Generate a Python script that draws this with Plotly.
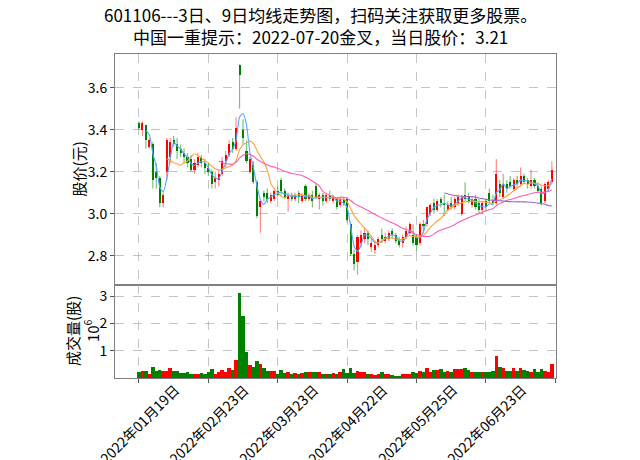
import plotly.graph_objects as go
from plotly.subplots import make_subplots
import pandas as pd

# ---------------- data ----------------
opens = [3.43, 3.40, 3.42, 3.32, 3.33, 3.20, 3.17, 3.05, 3.20, 3.27,
         3.35, 3.33, 3.31, 3.29, 3.27, 3.26, 3.21, 3.23, 3.27, 3.24,
         3.22, 3.20, 3.15, 3.16, 3.19, 3.25, 3.28, 3.34, 3.31, 3.71,
         3.40, 3.30, 3.20, 3.23, 3.15, 3.03, 3.10, 3.10, 3.06, 3.07,
         3.11, 3.16, 3.11, 3.07, 3.09, 3.07, 3.10, 3.06, 3.13, 3.07,
         3.09, 3.13, 3.07, 3.09, 3.06, 3.09, 3.06, 3.07, 3.04, 3.07,
         3.07, 2.95, 2.81, 2.77, 2.86, 2.88, 2.91, 2.84, 2.83, 2.85,
         2.90, 2.87, 2.88, 2.92, 2.90, 2.88, 2.86, 2.89, 2.91, 2.90,
         2.89, 2.86, 2.95, 2.95, 3.00, 3.05, 3.02, 3.07, 3.05, 3.02,
         3.05, 3.03, 3.05, 3.00, 3.09, 3.08, 3.04, 3.07, 3.05, 3.02,
         3.06, 3.10, 3.06, 3.05, 3.14, 3.08, 3.14, 3.15, 3.12, 3.16,
         3.14, 3.18, 3.16, 3.13, 3.16, 3.13, 3.12, 3.06, 3.12, 3.15]
highs = [3.44, 3.44, 3.42, 3.36, 3.34, 3.24, 3.18, 3.10, 3.36, 3.36,
         3.37, 3.36, 3.33, 3.31, 3.29, 3.28, 3.26, 3.29, 3.28, 3.26,
         3.24, 3.21, 3.20, 3.21, 3.27, 3.30, 3.35, 3.36, 3.46, 3.71,
         3.45, 3.35, 3.27, 3.25, 3.16, 3.07, 3.11, 3.12, 3.10, 3.12,
         3.13, 3.17, 3.12, 3.10, 3.10, 3.10, 3.11, 3.10, 3.14, 3.10,
         3.11, 3.14, 3.10, 3.10, 3.10, 3.11, 3.09, 3.08, 3.08, 3.08,
         3.08, 2.96, 2.83, 2.90, 2.92, 2.93, 2.92, 2.88, 2.87, 2.89,
         2.93, 2.91, 2.92, 2.93, 2.91, 2.89, 2.90, 2.94, 2.96, 2.95,
         2.90, 2.96, 2.97, 3.03, 3.05, 3.07, 3.07, 3.08, 3.09, 3.06,
         3.08, 3.08, 3.09, 3.09, 3.15, 3.10, 3.08, 3.09, 3.07, 3.06,
         3.07, 3.12, 3.09, 3.26, 3.16, 3.19, 3.16, 3.18, 3.17, 3.18,
         3.22, 3.19, 3.17, 3.21, 3.17, 3.15, 3.13, 3.15, 3.16, 3.25]
lows = [3.40, 3.37, 3.31, 3.31, 3.12, 3.12, 3.03, 3.03, 3.16, 3.24,
        3.32, 3.26, 3.27, 3.24, 3.22, 3.20, 3.19, 3.22, 3.22, 3.19,
        3.18, 3.12, 3.12, 3.13, 3.18, 3.22, 3.27, 3.29, 3.30, 3.50,
        3.33, 3.24, 3.19, 3.14, 2.98, 2.91, 3.06, 3.05, 3.05, 3.06,
        3.08, 3.09, 3.07, 3.01, 3.06, 3.06, 3.05, 3.05, 3.06, 3.06,
        3.03, 3.07, 3.02, 3.04, 3.05, 3.06, 3.05, 3.02, 3.03, 3.04,
        2.96, 2.80, 2.73, 2.71, 2.84, 2.86, 2.85, 2.82, 2.81, 2.84,
        2.86, 2.86, 2.87, 2.88, 2.86, 2.84, 2.84, 2.88, 2.90, 2.85,
        2.82, 2.85, 2.91, 2.94, 2.99, 3.00, 3.01, 3.03, 2.99, 3.01,
        3.02, 3.02, 3.04, 2.99, 3.06, 3.05, 3.03, 3.02, 3.00, 3.00,
        3.01, 3.05, 3.04, 3.04, 3.08, 3.07, 3.10, 3.12, 3.11, 3.12,
        3.13, 3.14, 3.12, 3.12, 3.12, 3.10, 3.04, 3.05, 3.11, 3.14]
closes = [3.41, 3.43, 3.35, 3.35, 3.16, 3.17, 3.05, 3.09, 3.35, 3.34,
          3.33, 3.30, 3.29, 3.27, 3.24, 3.21, 3.24, 3.27, 3.24, 3.22,
          3.20, 3.14, 3.17, 3.19, 3.25, 3.28, 3.33, 3.31, 3.41, 3.66,
          3.36, 3.25, 3.26, 3.15, 2.99, 3.06, 3.08, 3.07, 3.09, 3.11,
          3.09, 3.11, 3.08, 3.09, 3.07, 3.09, 3.08, 3.09, 3.07, 3.09,
          3.06, 3.08, 3.09, 3.06, 3.09, 3.07, 3.08, 3.03, 3.07, 3.05,
          2.97, 2.81, 2.76, 2.89, 2.90, 2.91, 2.88, 2.86, 2.85, 2.88,
          2.88, 2.89, 2.91, 2.90, 2.87, 2.85, 2.89, 2.92, 2.95, 2.86,
          2.85, 2.95, 2.94, 3.03, 3.04, 3.02, 3.06, 3.05, 3.04, 3.04,
          3.03, 3.07, 3.08, 3.08, 3.07, 3.06, 3.07, 3.03, 3.02, 3.05,
          3.03, 3.06, 3.05, 3.19, 3.10, 3.14, 3.12, 3.13, 3.16, 3.14,
          3.18, 3.15, 3.14, 3.16, 3.13, 3.11, 3.05, 3.14, 3.15, 3.21]
volumes = [230000, 280000, 280000, 140000, 420000, 280000, 300000, 250000, 280000, 390000,
           250000, 250000, 200000, 180000, 230000, 160000, 170000, 170000, 180000, 160000,
           210000, 350000, 170000, 230000, 290000, 240000, 390000, 290000, 670000, 3100000,
           2270000, 960000, 490000, 420000, 620000, 510000, 390000, 270000, 270000, 270000,
           150000, 290000, 200000, 220000, 150000, 200000, 150000, 200000, 220000, 240000,
           240000, 240000, 220000, 170000, 170000, 170000, 200000, 150000, 220000, 340000,
           200000, 380000, 200000, 270000, 220000, 220000, 170000, 170000, 120000, 170000,
           220000, 150000, 150000, 120000, 90000, 90000, 150000, 170000, 170000, 240000,
           200000, 270000, 220000, 390000, 240000, 290000, 290000, 320000, 220000, 270000,
           240000, 320000, 320000, 320000, 390000, 290000, 220000, 240000, 220000, 240000,
           240000, 240000, 270000, 800000, 420000, 390000, 270000, 270000, 390000, 270000,
           390000, 290000, 270000, 240000, 320000, 240000, 320000, 270000, 240000, 500000]

tick_index = [0, 20, 40, 60, 80, 100, 120]
tick_labels = ["2022年01月19日", "2022年02月23日", "2022年03月23日",
               "2022年04月22日", "2022年05月25日", "2022年06月23日", ""]

ma_windows = [3, 9, 24, 89]
ma_colors = ["#52a8ff", "#ffa033", "#ff5cb8", "#9a66cc"]

title_lines = ["601106---3日、9日均线走势图，扫码关注获取更多股票。",
               "中国一重提示：2022-07-20金叉，当日股价：3.21"]
price_label = "股价(元)"
volume_label = "成交量(股)<br>10<sup>6</sup>"

# ---------------- figure ----------------
FONT = "Noto Sans CJK SC"
UP, DOWN = "#ff0000", "#008000"
UP_WICK, DOWN_WICK = "rgba(255,0,0,0.45)", "rgba(0,128,0,0.5)"

# plot area in figure pixels (page is offset by the 8px body margin)
L, R, T, B = 107, 548, 46, 370
W, H = 640, 460
PH = B - T
PW = R - L

def px(xp):
    return (xp - L) / PW

def py(yp):
    return (B - yp) / PH

idx = list(range(len(closes)))
is_up = [c >= o for o, c in zip(opens, closes)]

fig = make_subplots(rows=2, cols=1, shared_xaxes=True, vertical_spacing=0)

# wicks
for up, col in [(True, UP_WICK), (False, DOWN_WICK)]:
    wx, wy = [], []
    for i in idx:
        if is_up[i] == up:
            wx += [i, i, None]
            wy += [lows[i], highs[i], None]
    fig.add_trace(go.Scatter(x=wx, y=wy, mode="lines",
                             line=dict(color=col, width=1.2),
                             hoverinfo="skip"), row=1, col=1)

# bodies
bases = [min(o, c) for o, c in zip(opens, closes)]
heights = [max(abs(c - o), 0.004) for o, c in zip(opens, closes)]
fig.add_trace(go.Bar(x=idx, y=heights, base=bases, width=0.6,
                     marker=dict(color=[UP if u else DOWN for u in is_up], line=dict(width=0))),
              row=1, col=1)

# moving averages
s = pd.Series(closes)
for w, col in zip(ma_windows, ma_colors):
    ma = s.rolling(w).mean()
    fig.add_trace(go.Scatter(x=idx, y=ma, mode="lines",
                             line=dict(color=col, width=1.1, shape="spline", smoothing=0.5),
                             connectgaps=False), row=1, col=1)

# volume
fig.add_trace(go.Bar(x=idx, y=volumes, width=1.0,
                     marker=dict(color=[UP if u else DOWN for u in is_up], line=dict(width=0))),
              row=2, col=1)

grid = dict(showgrid=True, gridcolor="rgba(176,176,176,0.75)", griddash="dash", gridwidth=1)
frame = dict(showline=True, linecolor="#808080", linewidth=1, mirror=True, zeroline=False)

fig.update_xaxes(range=[-6.9, 120.2], tickvals=tick_index, showticklabels=False,
                 **grid, **frame)
fig.update_xaxes(ticks="", row=1, col=1)
fig.update_xaxes(ticks="outside", ticklen=4, tickcolor="#555", row=2, col=1)

fig.update_yaxes(range=[2.662, 3.76], tickvals=[2.8, 3.0, 3.2, 3.4, 3.6],
                 ticktext=["2.8", "3.0", "3.2", "3.4", "3.6"],
                 ticks="outside", ticklen=4, tickcolor="#555",
                 tickfont=dict(family=FONT, size=14, color="#000"),
                 **grid, **frame, row=1, col=1)
fig.update_yaxes(range=[0, 3.41e6], tickvals=[1e6, 2e6, 3e6], ticktext=["1", "2", "3"],
                 ticks="outside", ticklen=4, tickcolor="#555",
                 tickfont=dict(family=FONT, size=14, color="#000"),
                 **grid, **frame, row=2, col=1)

split = 0.2875
fig.update_layout(yaxis=dict(domain=[split, 1.0]), yaxis2=dict(domain=[0.0, split]))

annotations = []
for t, lab in zip(tick_index, tick_labels):
    if lab:
        annotations.append(dict(x=t, xref="x2", y=py(415.5), yref="paper",
                                text=lab, showarrow=False, textangle=-45,
                                xanchor="center", yanchor="middle",
                                font=dict(family=FONT, size=14, color="#000")))
# titles
for line, yp in zip(title_lines, [7, 29]):
    annotations.append(dict(x=px(312), xref="paper", y=py(yp), yref="paper",
                            text=line, showarrow=False, xanchor="center", yanchor="middle",
                            font=dict(family=FONT, size=17, color="#000")))
# y-axis titles
annotations.append(dict(x=px(70), xref="paper", y=(split + 1) / 2, yref="paper",
                        text=price_label, showarrow=False, textangle=-90,
                        xanchor="center", yanchor="middle",
                        font=dict(family=FONT, size=15, color="#000")))
annotations.append(dict(x=px(74.5), xref="paper", y=split / 2, yref="paper",
                        text=volume_label, showarrow=False, textangle=-90,
                        xanchor="center", yanchor="middle",
                        font=dict(family=FONT, size=15, color="#000")))

fig.update_layout(
    width=W, height=H,
    margin=dict(l=L, r=W - R, t=T, b=H - B, autoexpand=False),
    paper_bgcolor="white", plot_bgcolor="white",
    showlegend=False, bargap=0,
    font=dict(family=FONT, size=14, color="#000"),
    annotations=annotations,
)

fig.write_html("out.html")
